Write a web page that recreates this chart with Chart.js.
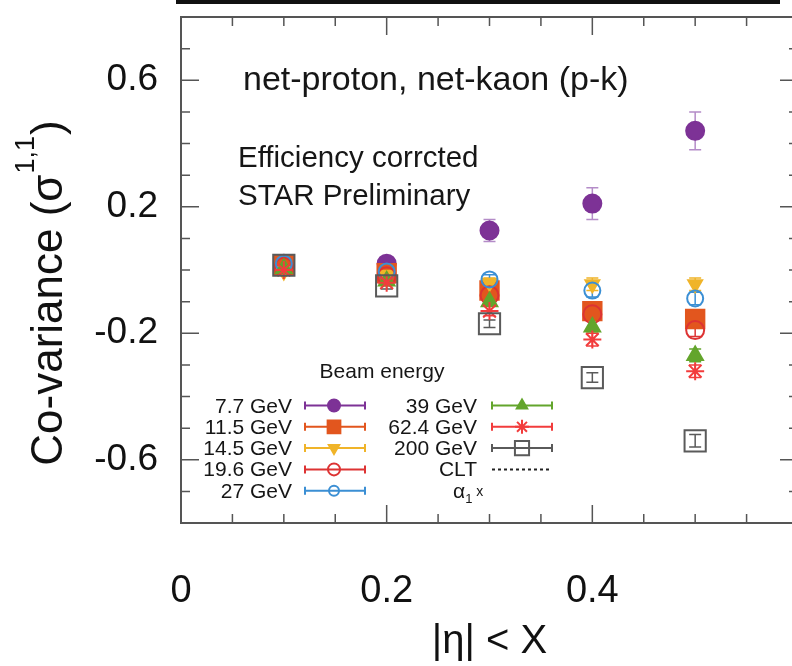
<!DOCTYPE html>
<html>
<head>
<meta charset="utf-8">
<title>Co-variance vs eta window</title>
<script src="https://cdn.jsdelivr.net/npm/chart.js@4.4.1/dist/chart.umd.min.js"></script>
<style>
  html, body { margin: 0; padding: 0; background: #fff; overflow: hidden; }
  #wrap { position: relative; width: 815px; height: 666px; }
  #panelEdge { position: absolute; left: 176px; top: 0; width: 604px; height: 4px; background: #111; }
</style>
</head>
<body>
<div id="wrap">
  <canvas id="cov" width="815" height="666"></canvas>
  <div id="panelEdge"></div>
</div>
<script>
// |eta| < X acceptance windows
const etaCut = [0.1, 0.2, 0.3, 0.4, 0.5];

const beamEnergies = ['7.7 GeV', '11.5 GeV', '14.5 GeV', '19.6 GeV', '27 GeV', '39 GeV', '62.4 GeV', '200 GeV'];

// net-proton / net-kaon co-variance sigma^{1,1}
const cov7p7  = [0.02, 0.02, 0.125, 0.21, 0.44];
const cov11p5 = [0.015, -0.01, -0.065, -0.13, -0.155];
const cov14p5 = [-0.005, -0.015, -0.04, -0.045, -0.045];
const cov19p6 = [0.01, -0.02, -0.08, -0.14, -0.19];
const cov27   = [0.02, -0.005, -0.03, -0.065, -0.09];
const cov39   = [0.005, -0.035, -0.10, -0.18, -0.27];
const cov62p4 = [0.0, -0.04, -0.13, -0.22, -0.32];
const cov200  = [0.015, -0.05, -0.17, -0.34, -0.54];

// statistical errors
const err7p7  = [0.012, 0.012, 0.035, 0.05, 0.06];
const err11p5 = [0.01, 0.01, 0.015, 0.02, 0.02];
const err14p5 = [0.01, 0.01, 0.015, 0.02, 0.02];
const err19p6 = [0.01, 0.01, 0.015, 0.02, 0.02];
const err27   = [0.01, 0.01, 0.015, 0.02, 0.02];
const err39   = [0.01, 0.01, 0.015, 0.02, 0.02];
const err62p4 = [0.01, 0.01, 0.015, 0.02, 0.02];
const err200  = [0.01, 0.01, 0.012, 0.015, 0.02];

const xTickValues = [0, 0.2, 0.4];
const yTickValues = [0.6, 0.2, -0.2, -0.6];

const FONT = '"Liberation Sans", Arial, Helvetica, sans-serif';

const values = [cov7p7, cov11p5, cov14p5, cov19p6, cov27, cov39, cov62p4, cov200];
const errors = [err7p7, err11p5, err14p5, err19p6, err27, err39, err62p4, err200];

// marker look per beam energy (plot size, legend size)
const looks = [
  { color: '#7d3296', bar: '#b48cc8', style: 'circle',   fill: true,  r: 9,  lr: 6 },
  { color: '#e2561e', bar: '#e2561e', style: 'rect',     fill: true,  r: 13, lr: 9 },
  { color: '#f0b429', bar: '#f0b429', style: 'triangle', fill: true,  r: 8,  lr: 6, rot: 180 },
  { color: '#dd3333', bar: '#dd3333', style: 'circle',   fill: false, r: 9,  lr: 6 },
  { color: '#3b8fd4', bar: '#3b8fd4', style: 'circle',   fill: false, r: 8,  lr: 5 },
  { color: '#63a52c', bar: '#63a52c', style: 'triangle', fill: true,  r: 9,  lr: 6 },
  { color: '#f23c3c', bar: '#f23c3c', style: 'star',     fill: false, r: 9,  lr: 7 },
  { color: '#5a5a5a', bar: '#5a5a5a', style: 'rect',     fill: false, r: 15, lr: 10 }
];

// later energies are painted over earlier ones
const datasets = beamEnergies.map((label, i) => ({
  label,
  order: beamEnergies.length - i,
  data: etaCut.map((x, j) => ({ x, y: values[i][j] })),
  errors: errors[i],
  barColor: looks[i].bar,
  pointStyle: looks[i].style,
  rotation: looks[i].rot || 0,
  pointRadius: looks[i].r,
  borderWidth: 2,
  borderColor: looks[i].color,
  backgroundColor: looks[i].fill ? looks[i].color : 'rgba(255,255,255,0)',
  showLine: false
}));

// vertical error bars with caps
const errorBars = {
  id: 'errorBars',
  beforeDatasetsDraw(chart) {
    const { ctx, scales: { y } } = chart;
    ctx.save();
    chart.data.datasets.forEach((ds, i) => {
      const meta = chart.getDatasetMeta(i);
      ctx.strokeStyle = ds.barColor;
      ctx.lineWidth = 1.5;
      meta.data.forEach((pt, j) => {
        const v = ds.data[j].y, e = ds.errors[j];
        const y1 = y.getPixelForValue(v + e), y2 = y.getPixelForValue(v - e);
        ctx.beginPath();
        ctx.moveTo(pt.x, y1); ctx.lineTo(pt.x, y2);
        ctx.moveTo(pt.x - 6, y1); ctx.lineTo(pt.x + 6, y1);
        ctx.moveTo(pt.x - 6, y2); ctx.lineTo(pt.x + 6, y2);
        ctx.stroke();
      });
    });
    ctx.restore();
  }
};

// box frame with inward ticks on all four sides
const frameTicks = {
  id: 'frameTicks',
  beforeDatasetsDraw(chart) {
    const { ctx, chartArea: a, scales: { x, y } } = chart;
    ctx.save();
    ctx.strokeStyle = '#555';
    ctx.lineWidth = 2;
    ctx.strokeRect(a.left, a.top, a.right - a.left, a.bottom - a.top);
    ctx.lineWidth = 1.5;
    ctx.beginPath();
    for (let i = 1; i < 12; i++) {
      const px = x.getPixelForValue(i * 0.05);
      const len = i % 4 === 0 ? 18 : 9;
      ctx.moveTo(px, a.bottom); ctx.lineTo(px, a.bottom - len);
      ctx.moveTo(px, a.top); ctx.lineTo(px, a.top + len);
    }
    for (let i = -7; i <= 7; i++) {
      const py = y.getPixelForValue(i / 10);
      const len = (i + 6) % 4 === 0 ? 18 : 9;
      ctx.moveTo(a.left, py); ctx.lineTo(a.left + len, py);
      ctx.moveTo(a.right, py); ctx.lineTo(a.right - len, py);
    }
    ctx.stroke();
    ctx.restore();
  }
};

function marker(ctx, look, radius, x, y) {
  ctx.save();
  ctx.fillStyle = look.fill ? look.color : 'rgba(255,255,255,0)';
  ctx.strokeStyle = look.color;
  ctx.lineWidth = 2;
  Chart.helpers.drawPoint(ctx, { pointStyle: look.style, rotation: look.rot || 0, radius, borderWidth: 2 }, x, y);
  ctx.restore();
}

// in-frame labels and the beam energy key
const annotations = {
  id: 'annotations',
  afterDraw(chart) {
    const { ctx, chartArea: a } = chart;
    const L = a.left, T = a.top;
    ctx.save();
    ctx.fillStyle = '#161616';
    ctx.textBaseline = 'alphabetic';
    ctx.textAlign = 'left';
    ctx.font = '34px ' + FONT;
    ctx.fillText('net-proton, net-kaon (p-k)', L + 62, T + 73);
    ctx.font = '29.5px ' + FONT;
    ctx.fillText('Efficiency corrcted', L + 57, T + 150);
    ctx.fillText('STAR Preliminary', L + 57, T + 188);

    ctx.font = '21px ' + FONT;
    ctx.textAlign = 'center';
    ctx.fillText('Beam energy', L + 201, T + 361);

    const rowY = k => T + 388.5 + 21.3 * k;
    const cols = [
      { text: L + 111, l1: L + 124, l2: L + 184, mk: L + 153 },
      { text: L + 296, l1: L + 311, l2: L + 371, mk: L + 341 }
    ];
    beamEnergies.forEach((label, i) => {
      const c = cols[i < 5 ? 0 : 1];
      const cy = rowY(i < 5 ? i : i - 5);
      const look = looks[i];
      ctx.fillStyle = '#161616';
      ctx.textAlign = 'right';
      ctx.fillText(label, c.text, cy + 7);
      ctx.strokeStyle = look.color;
      ctx.lineWidth = 2;
      ctx.beginPath();
      ctx.moveTo(c.l1, cy); ctx.lineTo(c.l2, cy);
      ctx.moveTo(c.l1, cy - 4); ctx.lineTo(c.l1, cy + 4);
      ctx.moveTo(c.l2, cy - 4); ctx.lineTo(c.l2, cy + 4);
      ctx.stroke();
      marker(ctx, look, look.lr, c.mk, cy);
    });

    // CLT reference line entry
    let cy = rowY(3);
    ctx.fillStyle = '#161616';
    ctx.textAlign = 'right';
    ctx.fillText('CLT', cols[1].text, cy + 7);
    ctx.strokeStyle = '#222';
    ctx.lineWidth = 2;
    ctx.setLineDash([3, 3]);
    ctx.beginPath();
    ctx.moveTo(cols[1].l1, cy); ctx.lineTo(cols[1].l2, cy);
    ctx.stroke();
    ctx.setLineDash([]);

    // alpha_1 x entry
    cy = rowY(4);
    ctx.textAlign = 'left';
    let tx = L + 272;
    ctx.font = '21px ' + FONT;
    ctx.fillText('α', tx, cy + 7);
    tx += ctx.measureText('α').width;
    ctx.font = '13px ' + FONT;
    ctx.fillText('1', tx, cy + 12);
    tx += ctx.measureText('1').width + 4;
    ctx.font = '14px ' + FONT;
    ctx.fillText('x', tx, cy + 5);

    // rotated y-axis title with superscript
    ctx.translate(62, (a.top + a.bottom) / 2 + 23);
    ctx.rotate(-Math.PI / 2);
    const big = '44px ' + FONT, small = '27px ' + FONT;
    ctx.font = big;
    const w1 = ctx.measureText('Co-variance (σ').width;
    const w3 = ctx.measureText(')').width;
    ctx.font = small;
    const w2 = ctx.measureText('1,1').width;
    let sx = -(w1 + w2 + w3 + 2) / 2;
    ctx.fillStyle = '#111';
    ctx.font = big;
    ctx.fillText('Co-variance (σ', sx, 0);
    sx += w1 + 1;
    ctx.font = small;
    ctx.fillText('1,1', sx, -28);
    sx += w2 + 1;
    ctx.font = big;
    ctx.fillText(')', sx, 0);
    ctx.restore();
  }
};

new Chart(document.getElementById('cov'), {
  type: 'scatter',
  data: { datasets },
  options: {
    responsive: false,
    animation: false,
    devicePixelRatio: 1,
    events: [],
    layout: { padding: { top: 15, right: 2, left: 0, bottom: 0 } },
    plugins: { legend: { display: false }, tooltip: { enabled: false } },
    scales: {
      x: {
        type: 'linear',
        min: 0,
        max: 0.6,
        grid: { display: false },
        border: { display: false },
        afterFit: s => { s.height = 143; s.paddingLeft = 0; s.paddingRight = 0; },
        afterBuildTicks: s => { s.ticks = xTickValues.map(value => ({ value })); },
        ticks: {
          padding: 38,
          color: '#111',
          font: { family: FONT, size: 38 },
          callback: v => String(v)
        },
        title: {
          display: true,
          text: '|η| < X',
          color: '#111',
          font: { family: FONT, size: 40 },
          padding: { top: 0, bottom: 0 }
        }
      },
      y: {
        type: 'linear',
        min: -0.8,
        max: 0.8,
        grid: { display: false },
        border: { display: false },
        afterFit: s => { s.width = 181; s.paddingTop = 0; s.paddingBottom = 0; },
        afterBuildTicks: s => { s.ticks = yTickValues.map(value => ({ value })); },
        ticks: {
          padding: 15,
          color: '#111',
          font: { family: FONT, size: 37 },
          callback: v => String(v)
        }
      }
    }
  },
  plugins: [frameTicks, errorBars, annotations]
});
</script>
</body>
</html>
